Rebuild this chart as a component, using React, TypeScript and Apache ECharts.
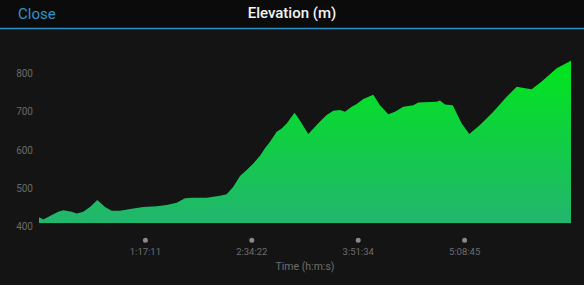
import React, { useEffect, useRef } from "react";
import * as echarts from "echarts";

const timeSec = [
  0, 187, 622, 840, 1058, 1423, 1641, 1928, 2220, 2538, 2873, 3164, 3526, 4105,
  4540, 5123, 5558, 5994, 6355, 6716, 7299, 7878, 8170, 8457, 8749, 9040, 9328,
  9619, 9837, 10055, 10346, 10564, 10781, 11121, 11286, 11722, 12231, 12522,
  12810, 13101, 13319, 13610, 13828, 14116, 14551, 14842, 15204, 15495, 15857,
  16292, 16509, 17310, 17454, 17672, 18007, 18399, 18729, 19195, 19774, 20357,
  20792, 21228, 21445, 21880, 22533, 23134, 23156,
];
const elevationM = [
  416, 410, 424, 430, 434, 430, 426, 430, 443, 461, 443, 433, 433, 439, 443,
  445, 448, 454, 466, 467, 467, 472, 476, 496, 524, 540, 557, 577, 597, 614,
  640, 649, 662, 690, 676, 634, 667, 684, 695, 697, 693, 706, 713, 726, 737,
  710, 686, 693, 706, 710, 717, 719, 722, 712, 710, 662, 634, 658, 693, 732,
  758, 754, 752, 772, 807, 826, 828,
];
const totalSec = 23156;
const timeTickLabels = ["1:17:11", "2:34:22", "3:51:34", "5:08:45"];
const elevTicks = [400, 500, 600, 700, 800];

export default function App() {
  const ref = useRef<HTMLDivElement>(null);
  useEffect(() => {
    document.body.style.margin = "0";
    document.body.style.background = "#141414";
    const chart = echarts.init(ref.current!, null, { renderer: "svg" });
    const step = totalSec / (timeTickLabels.length + 1);
    chart.setOption({
      animation: false,
      backgroundColor: "#141414",
      textStyle: { fontFamily: "Roboto, 'Noto Sans', sans-serif" },
      title: {
        text: "Elevation (m)",
        left: "center",
        top: 0,
        textStyle: {
          color: "#f4f4f4",
          fontSize: 15,
          fontWeight: 500,
          fontFamily: "Roboto, sans-serif",
        },
      },
      graphic: [
        {
          type: "rect",
          left: 0,
          top: 0,
          z: -1,
          shape: { width: 584, height: 28 },
          style: { fill: "#0b0b0b" },
        },
        {
          type: "line",
          shape: { x1: 0, y1: 28.5, x2: 584, y2: 28.5 },
          style: { stroke: "#2a8fc4", lineWidth: 1.5 },
        },
        {
          type: "text",
          x: 18,
          y: 13.5,
          style: {
            text: "Close",
            fill: "#2b96cc",
            fontSize: 15,
            fontFamily: "Roboto, sans-serif",
            verticalAlign: "middle",
          },
        },
      ],
      grid: { left: 39, right: 13, top: 51.8, bottom: 61.7 },
      xAxis: {
        type: "value",
        min: 0,
        max: totalSec,
        interval: step,
        axisLine: { show: false },
        axisTick: { show: false },
        splitLine: { show: false },
        name: "Time (h:m:s)",
        nameLocation: "middle",
        nameGap: 37,
        nameTextStyle: { color: "#6e6e6e", fontSize: 10.5 },
        axisLabel: {
          margin: 12,
          showMinLabel: false,
          showMaxLabel: false,
          formatter: (v: number) => {
            const i = Math.round(v / step) - 1;
            if (i < 0 || i >= timeTickLabels.length) return "";
            return "{d|}\n{t|" + timeTickLabels[i] + "}";
          },
          rich: {
            d: {
              width: 5,
              height: 5,
              borderRadius: 2.5,
              backgroundColor: "#8a8a8a",
              lineHeight: 10,
            },
            t: { color: "#6e6e6e", fontSize: 9.5, lineHeight: 12 },
          },
        },
      },
      yAxis: {
        type: "value",
        min: 400,
        max: 850,
        interval: 100,
        axisLine: { show: false },
        axisTick: { show: false },
        splitLine: { show: false },
        axisLabel: {
          color: "#6a6a6a",
          fontSize: 10,
          margin: 6,
          verticalAlign: "top",
          lineHeight: 6,
          formatter: (v: number) => (elevTicks.includes(v) ? String(v) : ""),
        },
      },
      series: [
        {
          type: "line",
          data: timeSec.map((t, i) => [t, elevationM[i]]),
          symbol: "none",
          lineStyle: { width: 0 },
          areaStyle: {
            opacity: 1,
            color: new echarts.graphic.LinearGradient(0, 0, 0, 1, [
              { offset: 0, color: "#00e61b" },
              { offset: 1, color: "#22b56e" },
            ]),
          },
        },
      ],
    });
    return () => chart.dispose();
  }, []);
  return <div ref={ref} style={{ width: 584, height: 285 }} />;
}
